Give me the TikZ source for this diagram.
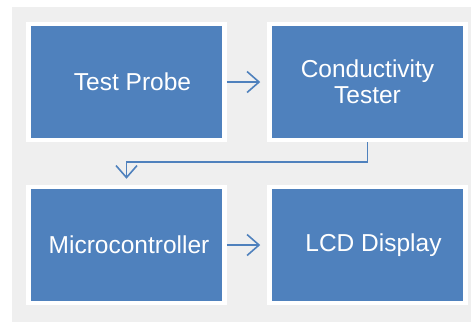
\documentclass[tikz,border=0pt]{standalone}
\usepackage{fontspec}
\setmainfont{Liberation Sans}
\usetikzlibrary{arrows.meta}
\definecolor{boxblue}{HTML}{4F81BD}
\definecolor{backgray}{HTML}{EFEFEF}
\begin{document}
\begin{tikzpicture}[x=1pt,y=-1pt,>={Straight Barb[length=12pt,width=21pt]},
    block/.style={draw=white,line width=4.5pt,fill=boxblue,text=white,minimum width=196pt,minimum height=116pt,align=center,font=\fontsize{24.5}{26}\selectfont},
    link/.style={->,color=boxblue,line width=1.6pt}]
        \useasboundingbox (0,0) rectangle (471,322);
        \fill[backgray] (12,7) rectangle (471,322);
        \node[block] (probe) at (126.5,82) {\hspace*{12pt}Test Probe};
        \node[block] (tester) at (367.5,82) {Conductivity\\Tester};
        \node[block] (mcu) at (126.5,245) {\hspace*{5pt}Microcontroller};
        \node[block] (lcd) at (367.5,245) {\hspace*{12pt}LCD Display};
        \draw[link,shorten >=7pt] (probe) -- (tester);
        \draw[link,shorten >=7pt] (mcu) -- (lcd);
        \draw[link,shorten >=6pt] (tester.south) -- ++(0,20) -| (mcu.north);
\end{tikzpicture}
\end{document}
